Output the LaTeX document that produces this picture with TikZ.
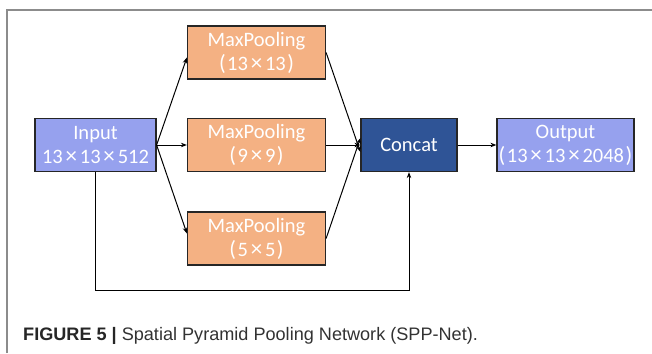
\documentclass[tikz,border=0pt]{standalone}
\usepackage{fontspec}
\setmainfont{Carlito}
\newfontfamily\capfont{Liberation Sans}
\usetikzlibrary{arrows.meta,calc}
\definecolor{inblue}{RGB}{150,161,238}
\definecolor{poolorange}{RGB}{244,177,131}
\definecolor{catblue}{RGB}{47,84,150}
\definecolor{framegray}{RGB}{140,140,140}
\definecolor{captext}{RGB}{50,50,50}
% spaced multiplication sign and parentheses used in the box labels
\newcommand\tms{\kern2.8pt{\fontsize{23}{24}\selectfont×}\kern2.8pt}
\newcommand\opn{{\fontsize{22}{24}\selectfont(}\kern1.5pt}
\newcommand\cls{\kern1.5pt{\fontsize{22}{24}\selectfont)}}
\begin{document}
\begin{tikzpicture}[x=1pt,y=-1pt,
  box/.style={draw=black!85,line width=1.2pt,minimum height=53pt,inner sep=0pt,
    align=center,text=white,font=\fontsize{20.5}{24}\selectfont},
  iobox/.style={box,fill=inblue},
  poolbox/.style={box,fill=poolorange,minimum width=138pt},
  catbox/.style={box,fill=catblue,minimum width=96pt},
  conn/.style={line width=1pt,-{Stealth[length=6pt,width=4.5pt]}}]
\useasboundingbox (0,0) rectangle (652,353);
% page frame
\draw[framegray,line width=2pt] (7,353) -- (7,10) -- (652,10);
% nodes
\node[iobox,minimum width=121pt] (in) at (95.5,145) {Input\\13\tms13\tms512};
\node[poolbox] (p1) at (256.5,52.5) {MaxPooling\\\opn13\tms13\cls};
\node[poolbox] (p2) at (256.5,145) {MaxPooling\\\opn9\tms9\cls};
\node[poolbox] (p3) at (256.5,238.5) {MaxPooling\\\opn5\tms5\cls};
\node[catbox] (cat) at (409,145) {Concat};
\node[iobox,minimum width=137pt] (out) at (565.5,145) {Output\\\opn13\tms13\tms2048\cls};
% connectors
\draw[conn] (in.east) -- ([yshift=-5pt]p1.west);
\draw[conn] (in.east) -- (p2.west);
\draw[conn] (in.east) -- ([yshift=5pt]p3.west);
\draw[conn] (p1.east) -- ([yshift=-7pt]cat.west);
\draw[conn] (p2.east) -- (cat.west);
\draw[conn] (p3.east) -- ([yshift=7pt]cat.west);
\draw[conn] (cat.east) -- (out.west);
\coordinate (loopL) at (in.south |- 0,290);
\coordinate (loopR) at (cat.south |- 0,290);
\draw[conn] (in.south) -- (loopL) -- (loopR) -- (cat.south);
% caption
\node[anchor=base west,inner sep=0pt,font=\capfont\fontsize{18.1}{20}\selectfont,text=captext] (cap) at (23,340)
  {\textbf{\color{black!85}FIGURE 5 |} Spatial Pyramid Pooling Network (SPP-Net).};
\end{tikzpicture}
\end{document}
